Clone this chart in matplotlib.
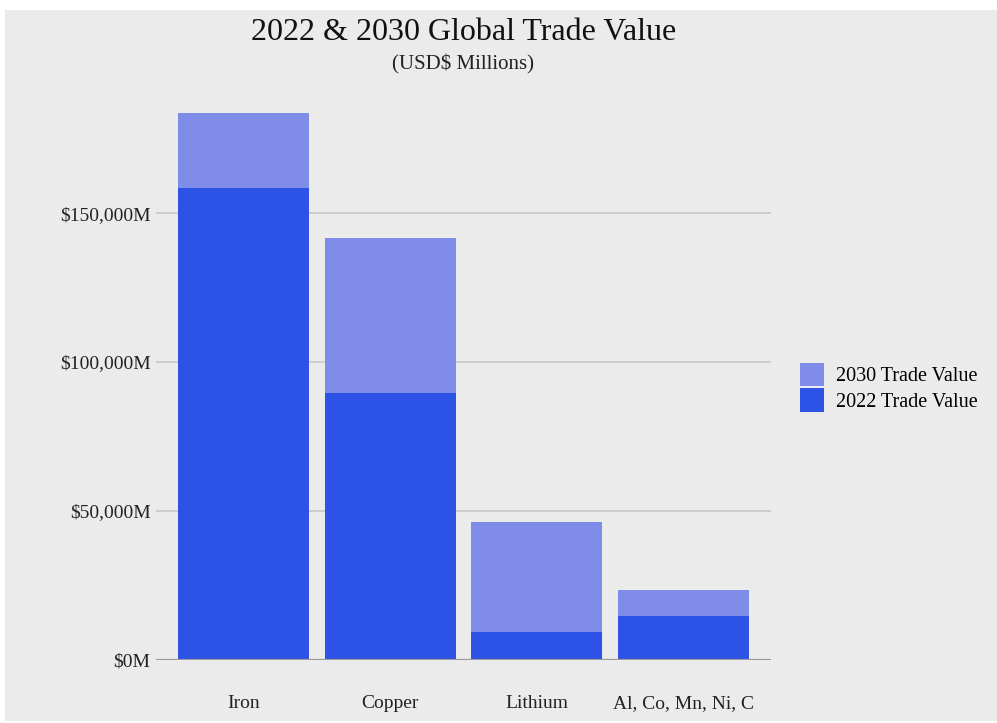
import matplotlib.pyplot as plt
from matplotlib.patches import Rectangle
from matplotlib.ticker import FuncFormatter
import numpy as np

# Nilai perdagangan global (juta USD)
minerals = ['Iron', 'Copper', 'Lithium', 'Al, Co, Mn, Ni, C']
trade_2022 = [158500, 89600, 9400, 14800]
trade_2030 = [183600, 141700, 46300, 23500]

plt.rcParams['font.family'] = ['Liberation Serif', 'DejaVu Serif']

fig = plt.figure(figsize=(9.97, 7.23), dpi=100, facecolor='white')
# Panel abu-abu di belakang seluruh grafik
fig.patches.append(Rectangle((5/997, 2/723), 992/997, 711/723,
                             transform=fig.transFigure, facecolor='#EBEBEB',
                             edgecolor='none', zorder=-5))

ax = fig.add_axes([0.1565, 0.0871, 0.6168, 0.783])
ax.set_facecolor('#EBEBEB')

x = np.arange(len(minerals))
ax.bar(x, trade_2030, width=0.895, color='#7F8CE8', label='2030 Trade Value', zorder=2)
ax.bar(x, trade_2022, width=0.895, color='#2D52E6', label='2022 Trade Value', zorder=3)

ax.set_xlim(-0.6, 3.6)
ax.set_ylim(0, 190000)
ax.set_yticks([0, 50000, 100000, 150000])
ax.yaxis.set_major_formatter(FuncFormatter(lambda v, p: f'${v:,.0f}M'))
ax.set_xticks(x)
ax.set_xticklabels(minerals)

ax.grid(axis='y', color='#C8C8C8', linewidth=1.2, zorder=1)
ax.axhline(0, color='#9A9A9A', linewidth=1.6, zorder=4)
for s in ax.spines.values():
    s.set_visible(False)
ax.tick_params(axis='y', length=0, pad=4, labelsize=14, colors='#222222')
ax.tick_params(axis='x', length=0, pad=25, labelsize=14, colors='#222222')

fig.text(0.4648, 0.955, '2022 & 2030 Global Trade Value', ha='center', va='center',
         fontsize=23, color='#111111')
fig.text(0.4648, 0.911, '(USD$ Millions)', ha='center', va='center',
         fontsize=15, color='#222222')

leg = ax.legend(loc='center left', bbox_to_anchor=(1.017, 0.482), frameon=False,
                fontsize=14.5, handlelength=1.2, handleheight=1.4,
                handletextpad=0.6, labelspacing=0.12)

plt.savefig('out.png', dpi=100, facecolor='white')
